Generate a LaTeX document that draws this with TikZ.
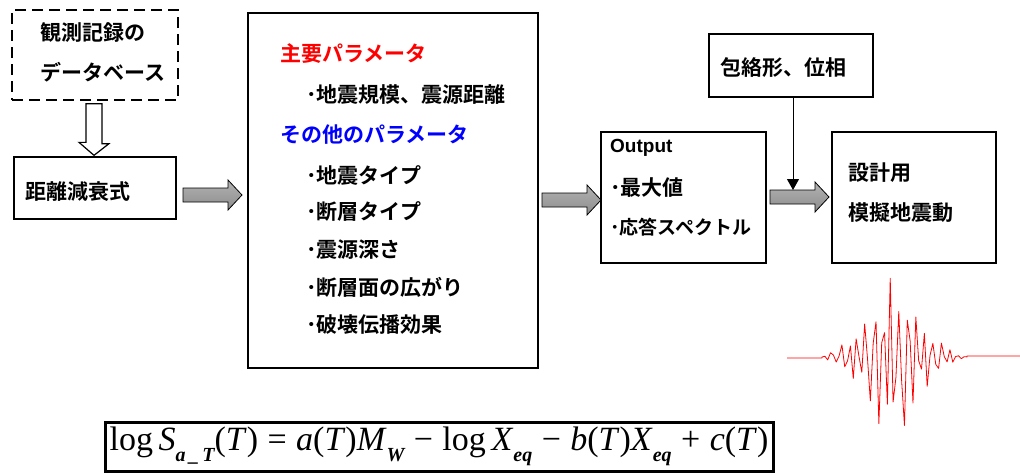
\documentclass[tikz,border=0pt]{standalone}
\usepackage{fontspec}
\setmainfont{Noto Sans CJK JP}[BoldFont={* Bold}]
\newfontfamily\eqfont{Liberation Serif}
\newfontfamily\latinb{Liberation Sans}
\usetikzlibrary{arrows.meta,calc}
\newcommand\eqsub[1]{\raisebox{-0.32em}{\fontsize{20}{20}\selectfont\bfseries\itshape #1}}
\newcommand\blockarr[2]{%
  \path[grayarrow] let \p1=(#1), \p2=(#2) in
   (\x1,\y1+7pt) -- (\x2-14pt,\y1+7pt) -- (\x2-14pt,\y1+15pt) -- (\x2,\y1)
   -- (\x2-14pt,\y1-15pt) -- (\x2-14pt,\y1-7pt) -- (\x1,\y1-7pt) -- cycle;}
\begin{document}
\begin{tikzpicture}[x=1pt,y=-1pt,
  font=\bfseries\fontsize{21}{24}\selectfont,
  box/.style={draw, line width=1.3pt, inner sep=0pt},
  dashbox/.style={draw, line width=1.3pt, inner sep=0pt, dash pattern=on 11pt off 6pt},
  eqbox/.style={draw, line width=3pt, inner sep=0pt},
  txt/.style={anchor=west, inner sep=0pt},
  grayarrow/.style={draw, line width=0.8pt, top color=gray!60, middle color=gray!15, bottom color=gray!90},
  hollow/.style={draw, line width=1.2pt, fill=white},
  wave/.style={draw=red, line width=0.8pt, line join=round},
  conn/.style={draw, line width=1pt, -{Triangle[width=12pt,length=11pt]}}
]
\useasboundingbox (0,0) rectangle (1020,474);

% boxes
\node[dashbox, minimum width=166, minimum height=90] (db) at (95,55) {};
\node[box, minimum width=162, minimum height=62] (dist) at (95,188) {};
\node[box, minimum width=290, minimum height=355] (big) at (393,190.5) {};
\node[box, minimum width=165, minimum height=131] (out) at (683.5,197.5) {};
\node[box, minimum width=164, minimum height=63] (env) at (791,65.5) {};
\node[box, minimum width=164, minimum height=131] (des) at (914,197.5) {};
\node[eqbox, minimum width=668, minimum height=49] (eq) at (439,446.5) {};

% texts
\node[txt] (t1) at (40,33) {観測記録の};
\node[txt] (t2) at (40,72) {データベース};
\node[txt] (t3) at (25,192) {距離減衰式};
\node[txt, text=red] (p1) at (280,54) {主要パラメータ};
\node[txt] (p2) at (306,95) {･地震規模、震源距離};
\node[txt, text=blue] (p3) at (280,135) {その他のパラメータ};
\node[txt] (p4) at (306,175) {･地震タイプ};
\node[txt] (p5) at (306,212) {･断層タイプ};
\node[txt] (p6) at (306,250) {･震源深さ};
\node[txt] (p7) at (306,287) {･断層面の広がり};
\node[txt] (p8) at (306,325) {･破壊伝播効果};
\node[txt, font=\latinb\bfseries\fontsize{19}{21}\selectfont] (o1) at (610,148) {Output};
\node[txt] (o2) at (610,188) {･最大値};
\node[txt, font=\bfseries\fontsize{19}{22}\selectfont] (o3) at (610,227) {･応答スペクトル};
\node[txt] (e1) at (720,68) {包絡形、位相};
\node[txt] (d1) at (848,173) {設計用};
\node[txt] (d2) at (848,213) {模擬地震動};

% hollow arrow
\path[hollow] ($(db.south)+(-9,3)$) -- ++(16,0) -- ++(0,40) -- ++(7,0) -- ($(dist.north)+(-1,-1)$)
  -- ++(-15,-13) -- ++(7,0) -- cycle;

% gray block arrows
\coordinate (a1s) at (183,195); \coordinate (a1e) at (242,195);
\coordinate (a2s) at (542,200); \coordinate (a2e) at (601,200);
\coordinate (a3s) at (770,197); \coordinate (a3e) at (829,197);
\blockarr{a1s}{a1e}
\blockarr{a2s}{a2e}
\blockarr{a3s}{a3e}

% connector from envelope box
\coordinate (envtip) at (793,190);
\draw[conn] (env.south -| envtip) -- (envtip);

% equation
\node[font=\eqfont\fontsize{34}{36}\selectfont, inner sep=0pt] (eqt) at (439,446)
 {log\,\textit{S}\eqsub{a\,\_\,T}(\textit{T})\;=\;\textit{a}(\textit{T})\textit{M}\eqsub{W}\;−\;log\,\textit{X}\eqsub{eq}\;−\;\textit{b}(\textit{T})\textit{X}\eqsub{eq}\;+\;\textit{c}(\textit{T})};

% waveform
\coordinate (w0) at (787,358);
\coordinate (w1) at (822,358);
\coordinate (w2) at (967,356);
\coordinate (w3) at (1020,356);
\draw[wave] (w0) -- (w1) -- plot[domain=822:967, samples=52]
  (\x, {357 - (70*exp(0-(((\x-893)/30)^2)) + 20*max(0,1-(((\x-893)/72)^2)))*sin(43*(\x-822) + 40*sin(11*(\x-822)))*(0.75+0.25*sin(97*(\x-822)))})
  -- (w2) -- (w3);
\end{tikzpicture}
\end{document}
